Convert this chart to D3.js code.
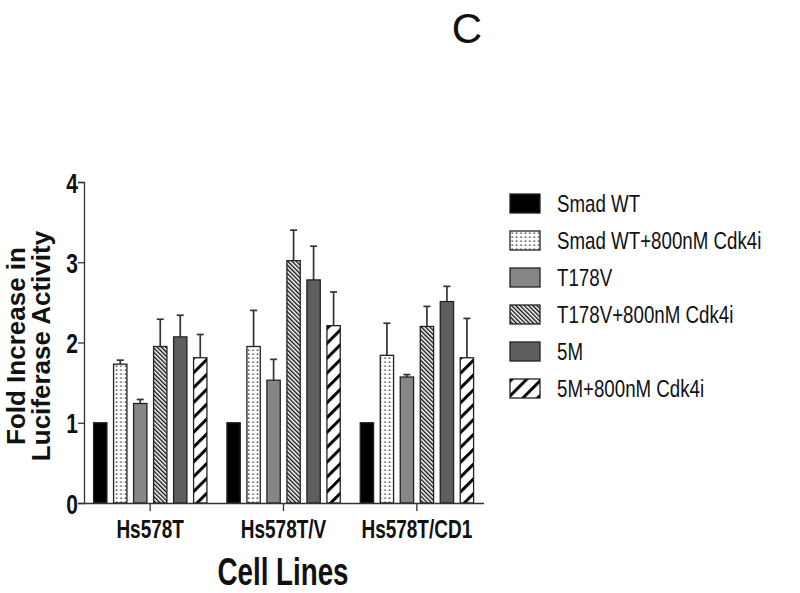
<!DOCTYPE html>
<head>
  <meta charset="utf-8">
  <script src="https://d3js.org/d3.v7.min.js"></script>
  <style>
    body { margin: 0; background: #fff; }
    text { font-family: "Liberation Sans", Arial, sans-serif; }
  </style>
</head>
<body>
  <div id="chart"></div>
  <script>
    // data
    var cellLines = ["Hs578T", "Hs578T/V", "Hs578T/CD1"];
    var treatments = ["Smad WT", "Smad WT+800nM Cdk4i", "T178V", "T178V+800nM Cdk4i", "5M", "5M+800nM Cdk4i"];
    var smadWT      = [1.00, 1.00, 1.00];
    var smadWTCdk4i = [1.73, 1.95, 1.84];
    var t178v       = [1.24, 1.53, 1.57];
    var t178vCdk4i  = [1.95, 3.02, 2.20];
    var fiveM       = [2.07, 2.78, 2.51];
    var fiveMCdk4i  = [1.81, 2.21, 1.81];
    var smadWTErr      = [0, 0, 0];
    var smadWTCdk4iErr = [0.05, 0.45, 0.40];
    var t178vErr       = [0.05, 0.26, 0.03];
    var t178vCdk4iErr  = [0.34, 0.38, 0.25];
    var fiveMErr       = [0.27, 0.42, 0.19];
    var fiveMCdk4iErr  = [0.29, 0.42, 0.49];
    var yTicks = [0, 1, 2, 3, 4];

    var seriesVals = [smadWT, smadWTCdk4i, t178v, t178vCdk4i, fiveM, fiveMCdk4i];
    var seriesErrs = [smadWTErr, smadWTCdk4iErr, t178vErr, t178vCdk4iErr, fiveMErr, fiveMCdk4iErr];
    var fills = ["#000", "url(#dots)", "#868686", "url(#hatch)", "#5e5e5e", "url(#slash)"];

    var width = 800, height = 593;
    var svg = d3.select("#chart").append("svg")
      .attr("width", width)
      .attr("height", height);

    // patterns
    var defs = svg.append("defs");
    var p1 = defs.append("pattern").attr("id", "dots")
      .attr("patternUnits", "userSpaceOnUse").attr("width", 4.4).attr("height", 4);
    p1.append("rect").attr("width", 4.4).attr("height", 4).attr("fill", "#fff");
    p1.append("rect").attr("x", 1.5).attr("y", 1.5).attr("width", 1.5).attr("height", 1.3).attr("fill", "#222");

    var p2 = defs.append("pattern").attr("id", "hatch")
      .attr("patternUnits", "userSpaceOnUse").attr("width", 3).attr("height", 3)
      .attr("patternTransform", "rotate(-45)");
    p2.append("rect").attr("width", 3).attr("height", 3).attr("fill", "#fff");
    p2.append("rect").attr("width", 1.4).attr("height", 3).attr("fill", "#111");

    var p3 = defs.append("pattern").attr("id", "slash")
      .attr("patternUnits", "userSpaceOnUse").attr("width", 10.5).attr("height", 10)
      .attr("patternTransform", "rotate(45)");
    p3.append("rect").attr("width", 10.5).attr("height", 10).attr("fill", "#fff");
    p3.append("rect").attr("width", 3).attr("height", 10).attr("fill", "#000");

    var x0 = d3.scaleBand().domain(cellLines).range([83.5, 483.5]);
    var x1 = d3.scaleBand().domain(treatments)
      .range([6.75, 126.75]).paddingInner(1 / 3).paddingOuter(1 / 6);
    var y = d3.scaleLinear().domain([0, 4]).range([503, 182]);

    var rows = [];
    cellLines.forEach(function(c, i) {
      treatments.forEach(function(t, j) {
        rows.push({cell: c, treat: t, k: j, v: seriesVals[j][i], e: seriesErrs[j][i]});
      });
    });

    // error bars (drawn first so bar outline sits on top)
    var eb = svg.append("g").selectAll("g").data(rows.filter(function(d) { return d.e > 0; }))
      .enter().append("g")
      .attr("stroke", "#333").attr("stroke-width", 1.7);
    eb.append("line")
      .attr("x1", function(d) { return x0(d.cell) + x1(d.treat) + x1.bandwidth() / 2; })
      .attr("x2", function(d) { return x0(d.cell) + x1(d.treat) + x1.bandwidth() / 2; })
      .attr("y1", function(d) { return y(d.v); })
      .attr("y2", function(d) { return y(d.v + d.e); });
    eb.append("line")
      .attr("x1", function(d) { return x0(d.cell) + x1(d.treat) + x1.bandwidth() / 2 - 3.5; })
      .attr("x2", function(d) { return x0(d.cell) + x1(d.treat) + x1.bandwidth() / 2 + 3.5; })
      .attr("y1", function(d) { return y(d.v + d.e); })
      .attr("y2", function(d) { return y(d.v + d.e); });

    svg.append("g").selectAll("rect").data(rows)
      .enter().append("rect")
      .attr("x", function(d) { return x0(d.cell) + x1(d.treat); })
      .attr("y", function(d) { return y(d.v); })
      .attr("width", x1.bandwidth())
      .attr("height", function(d) { return y(0) - y(d.v); })
      .attr("fill", function(d) { return fills[d.k]; })
      .attr("stroke", "#222")
      .attr("stroke-width", 1.3);

    // axes
    var yAxis = svg.append("g").attr("transform", "translate(84,0)")
      .call(d3.axisLeft(y).tickValues(yTicks).tickFormat(d3.format("d")).tickSize(6).tickPadding(2));
    yAxis.select(".domain").attr("stroke", "#333").attr("stroke-width", 1.3);
    yAxis.selectAll(".tick line").attr("stroke", "#333").attr("stroke-width", 1.3);
    yAxis.selectAll(".tick text")
      .attr("font-size", 28).attr("font-weight", "bold").attr("fill", "#111")
      .attr("transform", "scale(0.75,1)")
      .attr("x", -6 / 0.75)
      .attr("dy", "0.36em");

    var xAxis = svg.append("g").attr("transform", "translate(0,503)")
      .call(d3.axisBottom(x0).tickSize(8).tickSizeOuter(0).tickPadding(4));
    xAxis.select(".domain").attr("stroke", "#333").attr("stroke-width", 1.3);
    xAxis.selectAll(".tick line").attr("stroke", "#333").attr("stroke-width", 1.3);
    xAxis.selectAll(".tick text").remove();
    xAxis.selectAll(".tick").append("text")
      .attr("transform", "translate(0,35) scale(0.76,1)")
      .attr("text-anchor", "middle")
      .attr("font-size", 25).attr("font-weight", "bold").attr("fill", "#111")
      .text(function(d) { return d; });

    // axis titles
    svg.append("text")
      .attr("transform", "translate(283,585) scale(0.73,1)")
      .attr("text-anchor", "middle")
      .attr("font-size", 38).attr("font-weight", "bold").attr("fill", "#111")
      .text("Cell Lines");

    var yt = svg.append("text")
      .attr("transform", "translate(0,346) rotate(-90)")
      .attr("text-anchor", "middle")
      .attr("font-size", 26).attr("font-weight", "bold").attr("fill", "#111");
    yt.append("tspan").attr("x", 0).attr("y", 25).text("Fold Increase in");
    yt.append("tspan").attr("x", 0).attr("y", 50).text("Luciferase Activity");

    // panel letter
    svg.append("text")
      .attr("x", 467).attr("y", 43)
      .attr("text-anchor", "middle")
      .attr("font-family", "'Open Sans', sans-serif")
      .attr("font-size", 42).attr("fill", "#111")
      .text("C");

    // legend
    var legend = svg.append("g").selectAll("g").data(treatments)
      .enter().append("g")
      .attr("transform", function(d, i) { return "translate(510," + (194 + i * 37) + ")"; });
    legend.append("rect")
      .attr("width", 30).attr("height", 19)
      .attr("fill", function(d, i) { return fills[i]; })
      .attr("stroke", "#222").attr("stroke-width", 1.3);
    legend.append("text")
      .attr("transform", "translate(47,17.5) scale(0.78,1)")
      .attr("font-size", 24).attr("fill", "#111")
      .text(function(d) { return d; });
  </script>
</body>
